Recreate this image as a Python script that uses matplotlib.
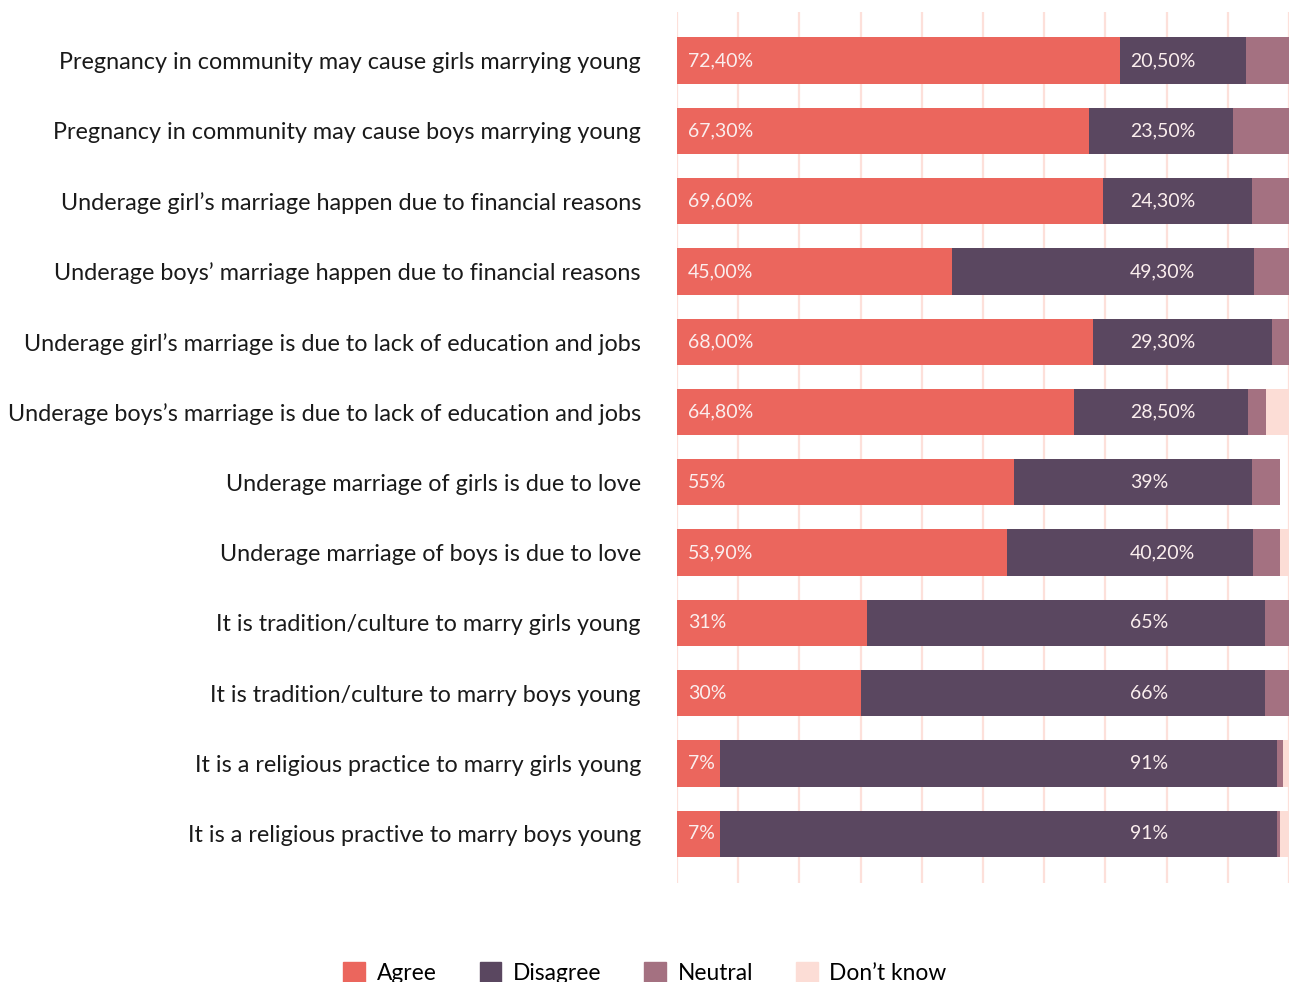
import numpy as np
import matplotlib.pyplot as plt
from matplotlib.patches import Patch

plt.rcParams['font.family'] = ['Lato', 'DejaVu Sans']

questions = [
    "Pregnancy in community may cause girls marrying young",
    "Pregnancy in community may cause boys marrying young",
    "Underage girl\u2019s marriage happen due to financial reasons",
    "Underage boys\u2019 marriage happen due to financial reasons",
    "Underage girl\u2019s marriage is due to lack of education and jobs",
    "Underage boys\u2019s marriage is due to lack of education and jobs",
    "Underage marriage of girls is due to love",
    "Underage marriage of boys is due to love",
    "It is tradition/culture to marry girls young",
    "It is tradition/culture to marry boys young",
    "It is a religious practice to marry girls young",
    "It is a religious practive to marry boys young",
]

# percentages as printed on the bars (comma decimals)
agree_txt = ["72,40", "67,30", "69,60", "45,00", "68,00", "64,80",
             "55", "53,90", "31", "30", "7", "7"]
disagree_txt = ["20,50", "23,50", "24,30", "49,30", "29,30", "28,50",
                "39", "40,20", "65", "66", "91", "91"]
neutral = [7.1, 9.2, 6.1, 5.7, 2.7, 3.0, 4.5, 4.5, 4.0, 4.0, 1.0, 0.5]
dont_know = [0, 0, 0, 0, 0, 3.7, 0, 1.5, 0, 0, 1.5, 2.0]

agree = np.array([float(s.replace(',', '.')) for s in agree_txt])
disagree = np.array([float(s.replace(',', '.')) for s in disagree_txt])
neutral = np.array(neutral)
dont_know = np.array(dont_know)

c_agree = '#eb665d'
c_disagree = '#5a4760'
c_neutral = '#a47181'
c_dk = '#fcddd6'

fig = plt.figure(figsize=(12.9, 9.82), dpi=100)
ax = fig.add_axes([677 / 1290, 99 / 982, 612 / 1290, 871 / 982])

y = np.arange(len(questions))
h = 0.66
ax.barh(y, agree, height=h, color=c_agree, zorder=2)
ax.barh(y, disagree, left=agree, height=h, color=c_disagree, zorder=2)
ax.barh(y, neutral, left=agree + disagree, height=h, color=c_neutral, zorder=2)
ax.barh(y, dont_know, left=agree + disagree + neutral, height=h, color=c_dk, zorder=2)

for i in range(len(questions)):
    ax.text(1.8, y[i], agree_txt[i] + '%', color='#fbeeee', fontsize=14,
            va='center', ha='left', zorder=3)
    ax.text(74.0, y[i], disagree_txt[i] + '%', color='#fbeeee', fontsize=14,
            va='center', ha='left', zorder=3)

for gx in np.arange(0, 101, 10):
    ax.axvline(gx, color='#fde0da', lw=1.6, zorder=1)

ax.set_xlim(0, 100)
ax.set_ylim(len(questions) - 0.3, -0.69)
ax.set_yticks(y)
ax.set_yticklabels(questions, fontsize=16.8, color='#1a1a1a')
ax.tick_params(axis='y', length=0, pad=26)
ax.set_xticks([])
for s in ax.spines.values():
    s.set_visible(False)

handles = [Patch(color=c) for c in (c_agree, c_disagree, c_neutral, c_dk)]
fig.legend(handles, ['Agree', 'Disagree', 'Neutral', 'Don\u2019t know'],
           loc='center', bbox_to_anchor=(0.5, 0.009), ncol=4, frameon=False,
           fontsize=16.4, handlelength=0.95, handleheight=0.95,
           handletextpad=0.5, columnspacing=1.9)

fig.savefig('out.png', dpi=100)
